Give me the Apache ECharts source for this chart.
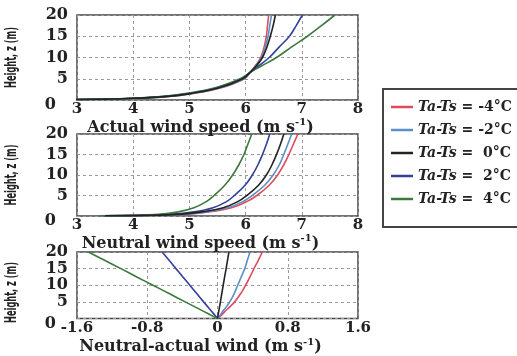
<!DOCTYPE html>
<html>
<head>
<meta charset="utf-8">
<script src="https://cdn.jsdelivr.net/npm/echarts@6/dist/echarts.min.js"></script>
<style>
  html, body { margin: 0; padding: 0; background: #fff; }
  #chart { width: 517px; height: 356px; }
</style>
</head>
<body>
<div id="chart"></div>
<script>
// series names (Ta - Ts stability classes)
const names = ['-4', '-2', '0', '2', '4'];
const colors = ['#e24a5c', '#5a90c8', '#222222', '#34409c', '#3a7a3c'];

// top panel: actual wind speed vs height
const hActual = [0.1, 0.2, 0.4, 0.8, 1.5, 2.8, 5, 6.5, 8, 10, 12.5, 15, 17.5, 20];
const actM4 = [3.0, 3.5, 4.05, 4.6, 5.05, 5.55, 5.98, 6.08, 6.17, 6.27, 6.33, 6.37, 6.39, 6.41];
const actM2 = [3.0, 3.5, 4.04, 4.58, 5.03, 5.53, 5.97, 6.08, 6.18, 6.28, 6.35, 6.40, 6.43, 6.46];
const act0  = [2.98, 3.48, 4.02, 4.56, 5.01, 5.51, 5.95, 6.08, 6.19, 6.30, 6.38, 6.44, 6.49, 6.53];
const actP2 = [2.95, 3.45, 3.98, 4.52, 4.97, 5.48, 5.93, 6.08, 6.23, 6.42, 6.60, 6.78, 6.90, 7.01];
const actP4 = [2.92, 3.42, 3.95, 4.48, 4.93, 5.44, 5.90, 6.08, 6.28, 6.55, 6.82, 7.10, 7.35, 7.59];

// middle panel: neutral wind speed vs height
const hNeutral = [0.05, 0.15, 0.4, 1, 2, 3.5, 5, 7.5, 10, 12.5, 15, 17.5, 20];
const neuM4 = [3.5, 4.3, 4.9, 5.35, 5.75, 6.02, 6.2, 6.42, 6.57, 6.68, 6.77, 6.85, 6.93];
const neuM2 = [3.5, 4.25, 4.85, 5.3, 5.68, 5.95, 6.12, 6.34, 6.49, 6.6, 6.68, 6.75, 6.82];
const neu0  = [3.5, 4.2, 4.8, 5.22, 5.6, 5.86, 6.02, 6.23, 6.37, 6.47, 6.55, 6.62, 6.68];
const neuP2 = [3.45, 4.1, 4.65, 5.08, 5.42, 5.66, 5.8, 5.99, 6.12, 6.22, 6.3, 6.37, 6.43];
const neuP4 = [3.4, 3.95, 4.45, 4.8, 5.08, 5.3, 5.44, 5.63, 5.77, 5.88, 5.97, 6.04, 6.11];

// bottom panel: neutral - actual wind vs height
const hDiff = [0, 1, 2, 3.5, 5, 7.5, 10, 12.5, 15, 17.5, 20];
const difM4 = [0, 0.045, 0.08, 0.14, 0.195, 0.265, 0.32, 0.37, 0.415, 0.465, 0.51];
const difM2 = [0, 0.03, 0.055, 0.10, 0.14, 0.19, 0.23, 0.27, 0.31, 0.34, 0.37];
const dif0  = [0, 0.006, 0.013, 0.023, 0.033, 0.049, 0.065, 0.081, 0.098, 0.114, 0.13];
const difP2 = [0, -0.03, -0.063, -0.11, -0.158, -0.236, -0.315, -0.394, -0.473, -0.551, -0.63];
const difP4 = [0, -0.074, -0.147, -0.257, -0.368, -0.551, -0.735, -0.919, -1.1, -1.286, -1.47];

const pairs = (xs, hs) => xs.map((x, i) => [x, hs[i]]);
const legendName = n => 'Ta-Ts = ' + n + '°C';

const panels = [
  { h: hActual, vals: [actM4, actM2, act0, actP2, actP4], smooth: 0.4 },
  { h: hNeutral, vals: [neuM4, neuM2, neu0, neuP2, neuP4], smooth: 0.4 },
  { h: hDiff, vals: [difM4, difM2, dif0, difP2, difP4], smooth: 0.3 }
];

const serifBold = { fontFamily: 'DejaVu Serif', fontWeight: 'bold', color: '#222' };
const gridTops = [15, 134, 252];
const gridHeights = [85, 82, 81];

const xNames = ['Actual wind speed', 'Neutral wind speed', 'Neutral-actual wind'];

const chart = echarts.init(document.getElementById('chart'));

const splitLine = { show: true, lineStyle: { color: '#9a9a9a', type: [3, 3], width: 1 } };

const option = {
  animation: false,
  backgroundColor: '#fff',
  grid: gridTops.map((t, i) => ({
    left: 77, top: t, width: 281, height: gridHeights[i],
    show: true, borderColor: '#444', borderWidth: 1.5
  })),
  xAxis: [0, 1, 2].map(i => ({
    type: 'value',
    gridIndex: i,
    min: i === 2 ? -1.6 : 3,
    max: i === 2 ? 1.6 : 8,
    interval: i === 2 ? 0.8 : 1,
    axisLine: { show: false },
    axisTick: { show: false },
    splitLine: splitLine,
    axisLabel: Object.assign({ fontSize: 15, margin: 2 }, serifBold),
    name: '{a|' + xNames[i] + ' (m s}{s|-1}{a|)}',
    nameLocation: 'middle',
    nameGap: i === 2 ? 19 : 15,
    nameTextStyle: {
      padding: [0, 34, 0, 0],
      rich: {
        a: Object.assign({ fontSize: 16 }, serifBold),
        s: Object.assign({ fontSize: 10, verticalAlign: 'top', padding: [0, 0, 9, 0] }, serifBold)
      }
    }
  })),
  yAxis: [0, 1, 2].map(i => ({
    type: 'value',
    gridIndex: i,
    min: 0, max: 20, interval: 5,
    axisLine: { show: false },
    axisTick: { show: false },
    splitLine: splitLine,
    axisLabel: {
      margin: 9,
      formatter: v => v === 0 ? '{z|0}' : '{n|' + v + '}',
      rich: {
        n: Object.assign({ fontSize: 16 }, serifBold),
        z: Object.assign({ fontSize: 16, padding: [10, 12, 0, 0] }, serifBold)
      }
    }
  })),
  legend: {
    orient: 'vertical',
    left: 386, top: 95,
    itemWidth: 22, itemHeight: 2.5,
    itemGap: 9,
    icon: 'rect',
    data: names.map(legendName),
    formatter: n => {
      const v = n.replace('Ta-Ts = ', '').replace('°C', '');
      const pad = v.charAt(0) === '-' ? '' : ' ';
      return '{i|Ta-Ts}{t| = ' + pad + v + '°C}';
    },
    textStyle: {
      rich: {
        i: { fontFamily: 'DejaVu Serif', fontStyle: 'italic', fontWeight: 'bold', fontSize: 14, color: '#222' },
        t: { fontFamily: 'DejaVu Serif', fontWeight: 'bold', fontSize: 14, color: '#222' }
      }
    }
  },
  graphic: [{
    type: 'rect',
    shape: { x: 383, y: 89, width: 140, height: 138 },
    style: { fill: 'none', stroke: '#444', lineWidth: 2 },
    z: 10
  }].concat(gridTops.map((t, i) => ({
    // condensed rotated y-axis title
    type: 'text',
    x: 12,
    y: t + gridHeights[i] / 2,
    rotation: Math.PI / 2,
    scaleX: 0.55,
    style: {
      text: 'Height, z (m)',
      fontFamily: 'DejaVu Sans',
      fontWeight: 'bold',
      fontSize: 15,
      fill: '#222',
      align: 'center',
      verticalAlign: 'middle'
    }
  }))),
  series: []
};

panels.forEach((p, gi) => {
  p.vals.forEach((vals, si) => {
    option.series.push({
      type: 'line',
      name: legendName(names[si]),
      xAxisIndex: gi,
      yAxisIndex: gi,
      data: pairs(vals, p.h),
      smooth: p.smooth,
      showSymbol: false,
      color: colors[si],
      lineStyle: { width: 1.6, color: colors[si] },
      z: si === 2 ? 5 : 3
    });
  });
});

chart.setOption(option);
</script>
</body>
</html>
